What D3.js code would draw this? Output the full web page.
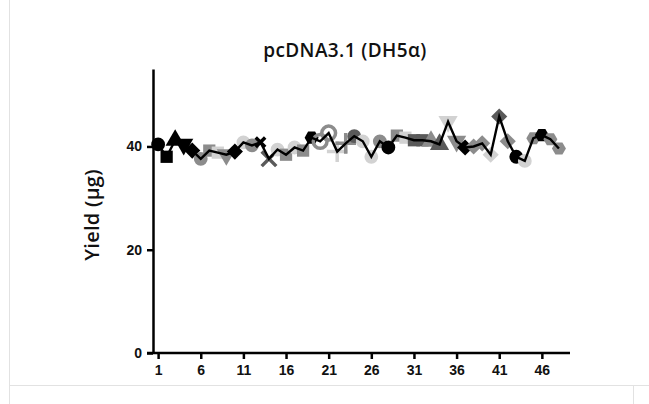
<!DOCTYPE html>
<html>
<head>
<meta charset="utf-8">
<script src="https://cdn.jsdelivr.net/npm/d3@7"></script>
<style>
  body { margin: 0; background: #fff; }
  svg { display: block; }
  .tick text { font-family: "Liberation Sans", Arial, sans-serif; font-weight: bold; font-size: 14px; fill: #111; }
</style>
</head>
<body>
<svg id="chart"></svg>
<script>
var width = 649, height = 404;

// sample number 1..48
var samples = d3.range(1, 49);
var yields = [40.4, 38.0, 41.2, 40.4, 39.2, 37.6, 39.2, 38.8, 38.4, 39.0,
              40.8, 40.2, 40.8, 37.6, 39.4, 38.4, 39.8, 39.2, 41.7, 41.0,
              42.6, 39.0, 40.6, 42.0, 41.0, 38.0, 41.0, 39.8, 42.1, 41.7,
              41.2, 41.2, 41.0, 40.4, 44.8, 41.0, 39.8, 40.0, 40.6, 38.4,
              45.8, 41.0, 38.0, 37.2, 41.6, 42.2, 41.4, 39.6];
var markers = ["circle","square","triUp","triDown","diamond","circle","square","square","triDown","diamond",
               "circle","circle","x","x","circle","square","circle","square","hex","ring",
               "ring","plus","plus","circle","circle","circle","circle","circle","square","square",
               "square","square","triUp","triUp","triDown","triDown","diamond","diamond","diamond","diamond",
               "diamond","diamond","circle","circle","hex","hex","hex","hex"];
var shades = ["black","black","black","black","black","mid","mid","light","mid","black",
              "light","mid","black","dark","light","mid","light","mid","black","mid",
              "mid","light","mid","dark","light","light","mid","black","mid","light",
              "dark","dark","mid","dark","light","mid","black","mid","mid","light",
              "dark","mid","black","light","mid","black","mid","mid"];
var yTicks = [0, 20, 40];
var xTicks = [1, 6, 11, 16, 21, 26, 31, 36, 41, 46];

var shadeColor = { black: "#000000", dark: "#5a5a5a", mid: "#8c8c8c", light: "#d2d2d2" };

var svg = d3.select("#chart").attr("width", width).attr("height", height);

// faint figure frame
svg.append("path")
    .attr("d", "M9.5,0V404M9,385.5H649M633.5,385.5V404")
    .attr("fill", "none").attr("stroke", "#e2e2e2").attr("stroke-width", 1);

var x = d3.scaleLinear().domain([0.4, 49.3]).range([153, 570]);
var y = d3.scaleLinear().domain([0, 55]).range([353, 69]);

var xAxis = svg.append("g")
    .attr("transform", "translate(0," + y(0) + ")")
    .call(d3.axisBottom(x).tickValues(xTicks).tickSize(6).tickPadding(6).tickSizeOuter(0));
var yAxis = svg.append("g")
    .attr("transform", "translate(" + x(0.4) + ",0)")
    .call(d3.axisLeft(y).tickValues(yTicks).tickSize(6).tickPadding(5).tickSizeOuter(0));

[xAxis, yAxis].forEach(function(g) {
  g.select(".domain").attr("stroke", "#000").attr("stroke-width", 2.5);
  g.selectAll(".tick line").attr("stroke", "#000").attr("stroke-width", 2.5);
});
xAxis.select(".domain").attr("d", "M" + (x(0.4) - 6) + ",0H" + x(49.3));

function symbolPath(kind, i) {
  var r = 7;
  if (kind === "circle" || kind === "ring") return d3.symbol(d3.symbolCircle, 150)();
  if (kind === "square") return d3.symbol(d3.symbolSquare, 150)();
  if (kind === "triUp" || kind === "triDown") return d3.symbol(d3.symbolTriangle, 160)();
  if (kind === "diamond") return d3.symbol(d3.symbolSquare, 130)();
  if (kind === "plus") return d3.symbol(d3.symbolPlus, 140)();
  if (kind === "x") return d3.symbol(d3.symbolTimes, i === 12 ? 60 : 140)();
  if (kind === "hex") {
    var pts = d3.range(6).map(function(k) {
      var a = Math.PI / 3 * k;
      return [r * Math.cos(a), r * Math.sin(a)];
    });
    return "M" + pts.join("L") + "Z";
  }
}
function symbolRotate(kind) {
  if (kind === "triDown") return 180;
  if (kind === "diamond") return 45;
  return 0;
}
var strokeKinds = { plus: 1, x: 1, ring: 1 };

var pts = samples.map(function(s, i) {
  return { s: s, i: i, v: yields[i], m: markers[i], c: shadeColor[shades[i]] };
});

svg.append("g").selectAll("path")
  .data(pts)
  .enter().append("path")
    .attr("d", function(d) { return symbolPath(d.m, d.i); })
    .attr("transform", function(d) {
      return "translate(" + x(d.s) + "," + y(d.v) + ") rotate(" + symbolRotate(d.m) + ")";
    })
    .attr("fill", function(d) { return strokeKinds[d.m] ? "none" : d.c; })
    .attr("stroke", function(d) { return strokeKinds[d.m] ? d.c : "none"; })
    .attr("stroke-width", 3.5);

svg.append("path")
    .datum(pts)
    .attr("fill", "none")
    .attr("stroke", "#000")
    .attr("stroke-width", 2.4)
    .attr("d", d3.line().x(function(d) { return x(d.s); }).y(function(d) { return y(d.v); }));

svg.append("text")
    .attr("x", 345).attr("y", 57)
    .attr("text-anchor", "middle")
    .style("font-family", "'Open Sans', sans-serif")
    .style("font-weight", 600)
    .style("font-size", "19px")
    .style("letter-spacing", "0.4px")
    .attr("fill", "#111")
    .text("pcDNA3.1 (DH5α)");

svg.append("text")
    .attr("transform", "translate(99,215) rotate(-90)")
    .attr("text-anchor", "middle")
    .style("font-family", "'Open Sans', sans-serif")
    .style("font-weight", 600)
    .style("font-size", "20px")
    .style("letter-spacing", "0.3px")
    .attr("fill", "#111")
    .text("Yield (µg)");
</script>
</body>
</html>
